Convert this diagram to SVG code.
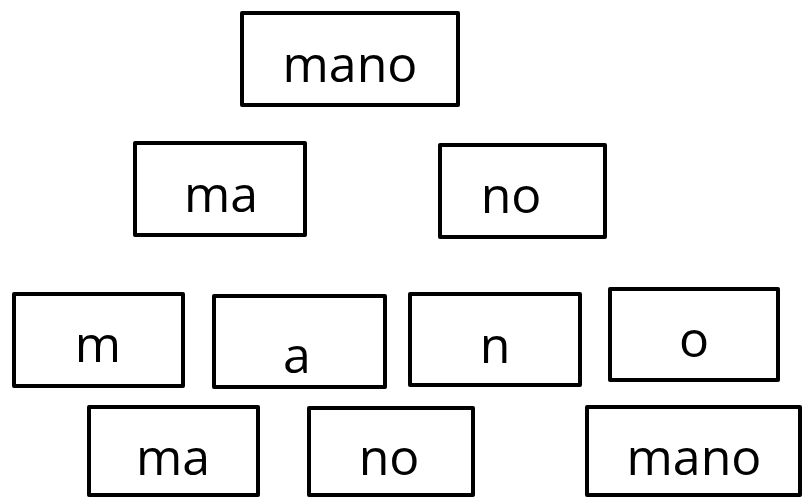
<svg xmlns="http://www.w3.org/2000/svg" width="808" height="500" viewBox="0 0 808 500">
<style>
rect{fill:#fff;stroke:#000;stroke-width:4;stroke-linejoin:round}
text{font-family:"Open Sans","Noto Sans",sans-serif;font-size:50px;fill:#000;text-anchor:middle}
</style>
<rect x="0" y="0" width="808" height="500" style="stroke:none"/>
<g id="connectors"></g>
<g id="n-mano"><rect x="242" y="13" width="216" height="92"/><text x="350" y="82">mano</text></g>
<g id="n-ma"><rect x="135" y="143" width="170" height="92"/><text x="221" y="212">ma</text></g>
<g id="n-no"><rect x="440" y="145" width="165" height="92"/><text x="511" y="213">no</text></g>
<g id="n-m"><rect x="14" y="294" width="169" height="92"/><text x="98" y="362">m</text></g>
<g id="n-a"><rect x="214" y="296" width="171" height="91"/><text x="297" y="373">a</text></g>
<g id="n-n"><rect x="410" y="294" width="170" height="91"/><text x="495" y="363">n</text></g>
<g id="n-o"><rect x="610" y="289" width="168" height="91"/><text x="694" y="357">o</text></g>
<g id="n-ma2"><rect x="89" y="407" width="169" height="88"/><text x="173" y="475">ma</text></g>
<g id="n-no2"><rect x="309" y="408" width="164" height="87"/><text x="389" y="475">no</text></g>
<g id="n-mano2"><rect x="587" y="407" width="213" height="88"/><text x="694" y="475">mano</text></g>
</svg>
